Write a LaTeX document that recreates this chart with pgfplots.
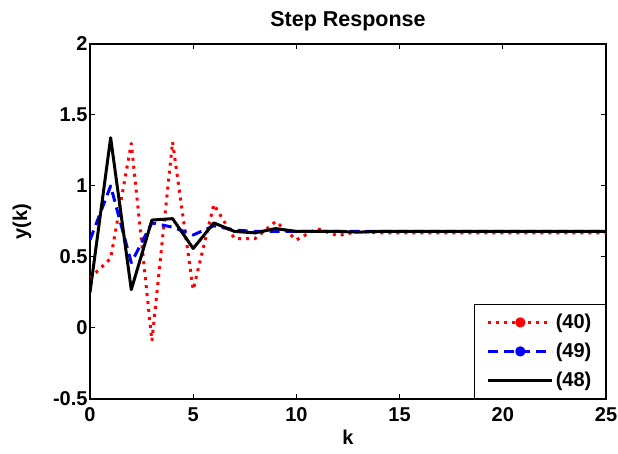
\documentclass[border=0pt]{standalone}
\usepackage{fontspec}
\setmainfont{Liberation Sans}
\usepackage{pgfplots}
\pgfplotsset{compat=1.18}
\definecolor{mred}{RGB}{255,0,0}
\definecolor{mblue}{RGB}{0,0,255}
\pgfplotsset{
  dotleg/.style={legend image code/.code={
    \draw[##1] (0pt,0pt) -- (64pt,0pt);
    \fill[##1, solid] (32pt,0pt) circle (3.6pt);}},
  lineleg/.style={legend image code/.code={
    \draw[##1] (0pt,0pt) -- (64pt,0pt);}},
}
\begin{document}
\begin{tikzpicture}
\useasboundingbox (-90pt,-55pt) rectangle (528pt,399pt);
\begin{axis}[
  scale only axis, width=516pt, height=355pt,
  xmin=0, xmax=25, ymin=-0.5, ymax=2,
  xtick={0,5,...,25}, ytick={-0.5,0,0.5,1,1.5,2},
  font=\fontsize{20}{22}\selectfont\bfseries,
  /pgf/number format/assume math mode=true,
  yticklabel style={/pgf/number format/fixed, /pgf/number format/precision=1, xshift=1pt},
  xticklabel style={yshift=-5pt},
  tick align=inside, major tick length=5pt,
  axis line style={line width=1.2pt}, every tick/.style={line width=1pt, black},
  title={Step Response},
  title style={font=\fontsize{21.5}{24}\selectfont\bfseries, at={(axis description cs:0.5,1)}, anchor=south, yshift=3pt},
  xlabel={k}, ylabel={y(k)},
  xlabel style={at={(axis description cs:0.5,-0.107)}, anchor=center},
  ylabel style={at={(axis description cs:-0.132,0.5)}, anchor=center},
  legend style={at={(1,0)}, anchor=south east, draw=black, line width=1.2pt,
    fill=white, inner xsep=12pt, inner ysep=8pt, row sep=9pt,
    font=\fontsize{20}{22}\selectfont\bfseries},
  legend cell align=left,
]
\addplot[mred, line width=3pt, line join=round, dash pattern=on 3pt off 5pt, dotleg] coordinates {
  (0,0.35) (1,0.49) (2,1.30) (3,-0.09) (4,1.31) (5,0.27) (6,0.87) (7,0.63)
  (8,0.63) (9,0.75) (10,0.62) (11,0.70) (12,0.65) (13,0.68) (14,0.67) (15,0.67)
  (16,0.67) (17,0.67) (18,0.67) (19,0.67) (20,0.67) (21,0.67) (22,0.67) (23,0.67)
  (24,0.67) (25,0.67)
};
\addlegendentry{(40)}
\addplot[mblue, line width=3pt, line join=round, dash pattern=on 10pt off 6pt, dotleg] coordinates {
  (0,0.62) (1,1.00) (2,0.46) (3,0.74) (4,0.71) (5,0.655) (6,0.72) (7,0.69)
  (8,0.68) (9,0.68) (10,0.68) (11,0.68) (12,0.68) (13,0.68) (14,0.68) (15,0.68)
  (16,0.68) (17,0.68) (18,0.68) (19,0.68) (20,0.68) (21,0.68) (22,0.68) (23,0.68)
  (24,0.68) (25,0.68)
};
\addlegendentry{(49)}
\addplot[black, line width=3pt, line join=round, lineleg] coordinates {
  (0,0.25) (1,1.34) (2,0.27) (3,0.76) (4,0.77) (5,0.56) (6,0.74) (7,0.68)
  (8,0.67) (9,0.70) (10,0.68) (11,0.68) (12,0.68) (13,0.675) (14,0.68) (15,0.68)
  (16,0.68) (17,0.68) (18,0.68) (19,0.68) (20,0.68) (21,0.68) (22,0.68) (23,0.68)
  (24,0.68) (25,0.68)
};
\addlegendentry{(48)}
\end{axis}
\end{tikzpicture}
\end{document}
